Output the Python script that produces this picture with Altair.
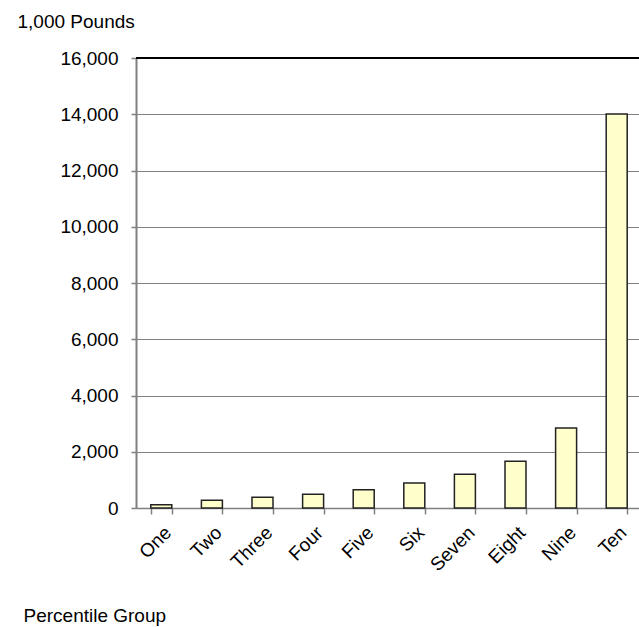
import altair as alt
import pandas as pd

groups = ["One", "Two", "Three", "Four", "Five", "Six", "Seven", "Eight", "Nine", "Ten"]
values = [118, 272, 379, 485, 651, 888, 1200, 1662, 2848, 14010]
y_ticks = [0, 2000, 4000, 6000, 8000, 10000, 12000, 14000, 16000]
y_title = "1,000 Pounds"
x_title = "Percentile Group"

df = pd.DataFrame({"group": groups, "value": values})

FONT = "Liberation Sans"

bars = alt.Chart(df).mark_bar(
    fill="#FFFFCC", stroke="#222222", strokeWidth=1.5
).encode(
    x=alt.X(
        "group:N",
        sort=groups,
        scale=alt.Scale(range=[0, 506], paddingInner=0.585, paddingOuter=0.2925),
        axis=alt.Axis(
            title=x_title,
            labelAngle=-45,
            labelAlign="right",
            labelBaseline="top",
            labelPadding=9,
            labelFontSize=19,
            labelFont=FONT,
            labelColor="#000000",
            tickBand="extent",
            tickSize=6,
            tickColor="#808080",
            tickWidth=1.5,
            domainColor="#808080",
            domainWidth=1.5,
            grid=False,
            titleX=-113,
            titleY=113,
            titleAlign="left",
            titleBaseline="alphabetic",
            titleAngle=0,
            titleFont=FONT,
            titleFontSize=19,
            titleFontWeight="normal",
            titleColor="#000000",
        ),
    ),
    y=alt.Y(
        "value:Q",
        scale=alt.Scale(domain=[0, 16000], nice=False, zero=True),
        axis=alt.Axis(
            title=y_title,
            values=y_ticks,
            format=",.0f",
            labelFontSize=19,
            labelFont=FONT,
            labelColor="#000000",
            labelPadding=13,
            tickSize=5,
            tickColor="#808080",
            tickWidth=1.5,
            domainColor="#808080",
            domainWidth=2,
            grid=True,
            gridColor="#808080",
            gridWidth=1.2,
            titleX=-119,
            titleY=-31,
            titleAlign="left",
            titleBaseline="alphabetic",
            titleAngle=0,
            titleFont=FONT,
            titleFontSize=19,
            titleFontWeight="normal",
            titleColor="#000000",
        ),
    ),
)

top_line = alt.Chart(df).mark_rule(color="#000000", strokeWidth=1.5).encode(
    y=alt.datum(16000)
)

chart = alt.layer(bars, top_line).properties(
    width=503,
    height=450,
    padding={"left": 136, "top": 58, "right": 0, "bottom": 119},
    autosize=alt.AutoSizeParams(type="none"),
).configure_view(stroke=None).configure(background="#FFFFFF")

chart.save("out.html", embed_options={"renderer": "svg", "actions": False})
